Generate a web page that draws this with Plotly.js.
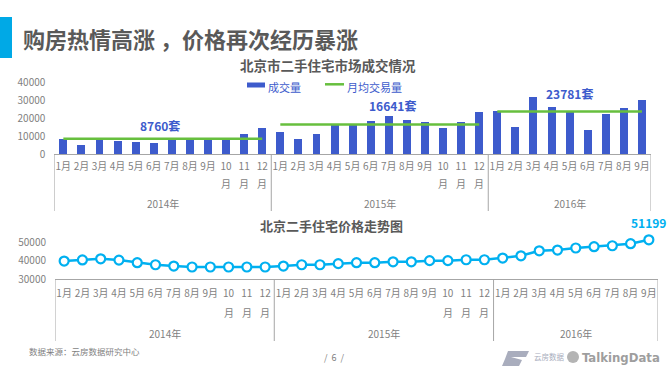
<!DOCTYPE html>
<html>
<head>
<meta charset="utf-8">
<script src="https://cdn.plot.ly/plotly-3.0.1.min.js"></script>
<style>html,body{margin:0;padding:0;background:#fff;}#chart{width:668px;height:375px;}</style>
</head>
<body>
<div id="chart"></div>
<script>
// ---------- data ----------
const years = ['2014年', '2015年', '2016年'];
const monthsPerYear = [12, 12, 9];
const monthLabels = [
  '1月','2月','3月','4月','5月','6月','7月','8月','9月','10<br>月','11<br>月','12<br>月',
  '1月','2月','3月','4月','5月','6月','7月','8月','9月','10<br>月','11<br>月','12<br>月',
  '1月','2月','3月','4月','5月','6月','7月','8月','9月'
];
const volume = [
  8600, 5300, 8800, 7630, 7070, 6520, 8900, 8800, 8700, 8800, 11330, 14670,
  12600, 8700, 11500, 16500, 16300, 18800, 21600, 19300, 18200, 14800, 18200, 23300,
  24200, 15300, 32000, 26400, 23600, 13600, 22500, 25900, 30300
];
const monthlyAvg = [8760, 16641, 23781];
const avgLabels = ['8760套', '16641套', '23781套'];
const price = [
  39800, 40400, 41000, 40300, 38900, 37800, 37100, 36600, 36600, 36600, 36600, 36600,
  37100, 37800, 37800, 38400, 38900, 38900, 39400, 39400, 40000, 40000, 40500, 40500,
  41400, 42600, 45300, 45700, 46800, 47500, 48000, 49100, 51199
];
const volTicks = [0, 10000, 20000, 30000, 40000];
const priceTicks = [30000, 40000, 50000];

// ---------- styling / layout constants ----------
const W = 668, H = 375;
const FONT = '"Noto Sans CJK SC", "Noto Sans", sans-serif';
const GRAY = '#7f7f7f', DARK = '#595959', AXIS = '#a6a6a6';
const BLUE = '#3d5bcc', GREEN = '#67bf3e', CYAN = '#00b0f0';
const py = v => (H - v) / H;   // pixel y -> paper y
const px = v => v / W;         // pixel x -> paper x
const avgLabelPos = [[5.35, 15800], [18.2, 27050], [28.0, 33950]];

const idx = volume.map((_, i) => i);
const tickFirst = monthLabels.map(s => s.split('<br>')[0]);
const tickSecond = monthLabels.map(s => s.split('<br>')[1] || '');
const groupStart = [];
let acc = 0;
monthsPerYear.forEach(n => { groupStart.push(acc); acc += n; });

const traces = [];
traces.push({
  type: 'bar', x: idx, y: volume, xaxis: 'x', yaxis: 'y',
  marker: { color: BLUE }, width: 0.44, showlegend: false, hoverinfo: 'skip'
});
monthlyAvg.forEach((v, g) => {
  const s = groupStart[g], e = s + monthsPerYear[g] - 1;
  traces.push({
    type: 'scatter', mode: 'lines', x: [s, e], y: [v, v], xaxis: 'x', yaxis: 'y',
    line: { color: GREEN, width: 2.5 }, showlegend: false, hoverinfo: 'skip'
  });
});
traces.push({
  type: 'scatter', mode: 'lines+markers', x: idx, y: price, xaxis: 'x2', yaxis: 'y2',
  line: { color: CYAN, width: 2.5 },
  marker: { symbol: 'circle', size: 9, color: '#ffffff', line: { color: CYAN, width: 2.2 } },
  cliponaxis: false, showlegend: false, hoverinfo: 'skip'
});

const shapes = [];
const annotations = [];
// last price label
const lastI = price.length - 1;
annotations.push({ xref: 'x2', yref: 'y2', x: lastI, y: price[lastI], ax: 0, ay: -17, showarrow: true,
  arrowwidth: 0.1, arrowcolor: 'rgba(0,0,0,0)', text: '<b>' + price[lastI] + '</b>',
  font: { family: FONT, size: 12, color: CYAN } });
// header bar
shapes.push({ type: 'rect', xref: 'paper', yref: 'paper', x0: 0, x1: px(12), y0: py(58), y1: py(17),
  fillcolor: '#00a9e6', line: { width: 0 } });
annotations.push({ xref: 'paper', yref: 'paper', x: px(21), y: py(38), xanchor: 'left', yanchor: 'middle',
  text: '<b>购房热情高涨 ，价格再次经历暴涨</b>', showarrow: false,
  font: { family: FONT, size: 22, color: DARK } });

// chart titles
annotations.push({ xref: 'paper', yref: 'paper', x: px(328), y: py(65), xanchor: 'center', yanchor: 'middle',
  text: '<b>北京市二手住宅市场成交情况</b>', showarrow: false, font: { family: FONT, size: 13.5, color: DARK } });
annotations.push({ xref: 'paper', yref: 'paper', x: px(331), y: py(225), xanchor: 'center', yanchor: 'middle',
  text: '<b>北京二手住宅价格走势图</b>', showarrow: false, font: { family: FONT, size: 13, color: DARK } });

// manual legend
shapes.push({ type: 'rect', xref: 'paper', yref: 'paper', x0: px(247), x1: px(265), y0: py(87.5), y1: py(82.5),
  fillcolor: BLUE, line: { width: 0 } });
annotations.push({ xref: 'paper', yref: 'paper', x: px(266), y: py(87), xanchor: 'left', yanchor: 'middle',
  text: '成交量', showarrow: false, font: { family: FONT, size: 11, color: BLUE } });
shapes.push({ type: 'line', xref: 'paper', yref: 'paper', x0: px(325), x1: px(344), y0: py(84.3), y1: py(84.3),
  line: { color: GREEN, width: 2.5 } });
annotations.push({ xref: 'paper', yref: 'paper', x: px(345), y: py(87), xanchor: 'left', yanchor: 'middle',
  text: '月均交易量', showarrow: false, font: { family: FONT, size: 11, color: BLUE } });

// average labels
avgLabels.forEach((t, g) => {
  annotations.push({ xref: 'x', yref: 'y', x: avgLabelPos[g][0], y: avgLabelPos[g][1],
    text: '<b>' + t + '</b>', showarrow: false, xanchor: 'center', yanchor: 'middle',
    font: { family: FONT, size: 12, color: BLUE } });
});

// group dividers, wrapped month suffix and year labels for both charts
function groupDecor(xref, yTopPx, yBotPx, yWrapPx, yYearPx) {
  const bounds = groupStart.map(s => s - 0.5).concat([acc - 0.5]);
  bounds.forEach(b => shapes.push({ type: 'line', xref: xref, yref: 'paper', x0: b, x1: b,
    y0: py(yTopPx), y1: py(yBotPx), line: { color: AXIS, width: 1 } }));
  tickSecond.forEach((t, i) => { if (t) annotations.push({ xref: xref, yref: 'paper', x: i, y: py(yWrapPx),
    xanchor: 'center', yanchor: 'middle', text: t, showarrow: false,
    font: { family: FONT, size: 10, color: GRAY } }); });
  years.forEach((yr, g) => annotations.push({ xref: xref, yref: 'paper',
    x: groupStart[g] + (monthsPerYear[g] - 1) / 2, y: py(yYearPx), xanchor: 'center', yanchor: 'middle',
    text: yr, showarrow: false, font: { family: FONT, size: 10, color: GRAY } }));
}
groupDecor('x', 154.4, 211, 183.5, 203);
groupDecor('x2', 279.3, 341, 312, 333);

// footer
annotations.push({ xref: 'paper', yref: 'paper', x: px(27), y: py(351), xanchor: 'left', yanchor: 'middle',
  text: '数据来源：云房数据研究中心', showarrow: false, font: { family: FONT, size: 8.5, color: GRAY } });
annotations.push({ xref: 'paper', yref: 'paper', x: px(334), y: py(357), xanchor: 'center', yanchor: 'middle',
  text: '/  6  /', showarrow: false, font: { family: FONT, size: 9, color: GRAY } });
// logos (approximate)
shapes.push({ type: 'path', xref: 'paper', yref: 'paper',
  path: `M ${px(508)} ${py(351)} L ${px(529)} ${py(351)} L ${px(526)} ${py(357)} L ${px(511)} ${py(357)} L ${px(522)} ${py(360)} L ${px(519)} ${py(366)} L ${px(502)} ${py(366)} L ${px(505)} ${py(359)} Z`,
  fillcolor: '#a9adbd', line: { width: 0 } });
annotations.push({ xref: 'paper', yref: 'paper', x: px(532), y: py(356), xanchor: 'left', yanchor: 'middle',
  text: '云房数据', showarrow: false, font: { family: FONT, size: 7.5, color: '#a9adbd' } });
shapes.push({ type: 'circle', xref: 'paper', yref: 'paper', x0: px(567), x1: px(579), y0: py(363), y1: py(351),
  fillcolor: '#b4b4b4', line: { width: 0 } });
annotations.push({ xref: 'paper', yref: 'paper', x: px(580), y: py(357), xanchor: 'left', yanchor: 'middle',
  text: '<b>TalkingData</b>', showarrow: false,
  font: { family: '"DejaVu Sans Condensed", Roboto, sans-serif', size: 13, color: '#9e9e9e' } });

const tickFont = { family: FONT, size: 10, color: GRAY };
const layout = {
  width: W, height: H, margin: { l: 0, r: 0, t: 0, b: 0 },
  paper_bgcolor: '#ffffff', plot_bgcolor: 'rgba(0,0,0,0)',
  showlegend: false, bargap: 0,
  xaxis: { domain: [px(54.3), px(651)], anchor: 'y', range: [-0.5, acc - 0.5],
    tickmode: 'array', tickvals: idx, ticktext: tickFirst, ticks: '', tickfont: tickFont,
    showline: true, linecolor: AXIS, linewidth: 1, showgrid: false, zeroline: false, ticklabelstandoff: 3 },
  yaxis: { domain: [py(154.4), py(82.4)], anchor: 'x', range: [0, 40000],
    tickmode: 'array', tickvals: volTicks, ticktext: volTicks.map(String), ticks: '', tickfont: tickFont,
    showline: false, showgrid: false, zeroline: false, ticklabelstandoff: 8 },
  xaxis2: { domain: [px(55), px(658)], anchor: 'y2', range: [-0.5, acc - 0.5],
    tickmode: 'array', tickvals: idx, ticktext: tickFirst, ticks: '', tickfont: tickFont,
    showline: true, linecolor: AXIS, linewidth: 1, showgrid: false, zeroline: false, ticklabelstandoff: 5 },
  yaxis2: { domain: [py(279.3), py(238.3)], anchor: 'x2', range: [30000, 52000],
    tickmode: 'array', tickvals: priceTicks, ticktext: priceTicks.map(String), ticks: '', tickfont: tickFont,
    showline: false, showgrid: false, zeroline: false, ticklabelstandoff: 8 },
  shapes: shapes, annotations: annotations
};
Plotly.newPlot('chart', traces, layout, { staticPlot: true, displayModeBar: false });
</script>
</body>
</html>
